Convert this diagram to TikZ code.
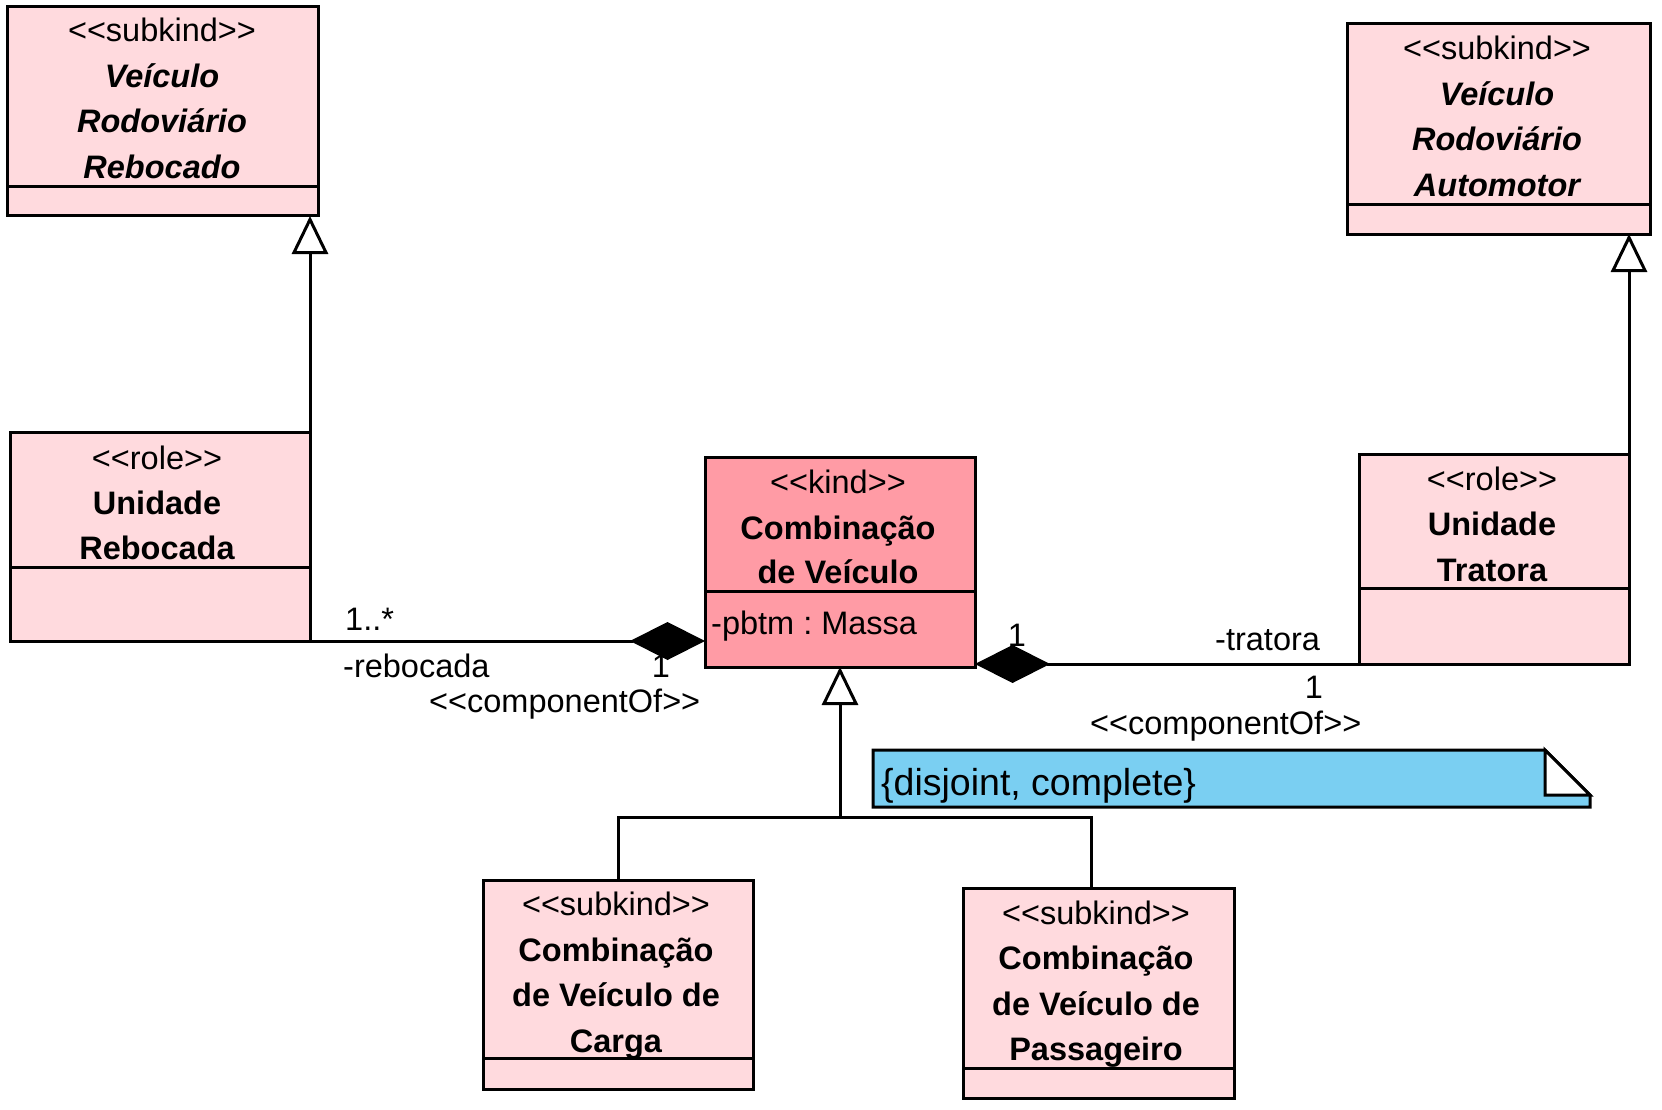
\documentclass[tikz,border=0pt]{standalone}
\usepackage{fontspec}
\setmainfont{Liberation Sans}[Ligatures=TeXOff]
\usetikzlibrary{arrows.meta}
\definecolor{pinkl}{RGB}{255,218,222}
\definecolor{pinkk}{RGB}{255,155,165}
\definecolor{notebl}{RGB}{122,207,242}
\begin{document}
\frenchspacing
\begin{tikzpicture}[x=1pt,y=-1pt,
 ln/.style={line width=3pt},
 cls/.style={draw, line width=3pt, anchor=north west, inner sep=0pt, outer sep=0pt},
 txt/.style={inner sep=0pt, anchor=base, font=\fontsize{32.5}{39}\selectfont},
 lft/.style={inner sep=0pt, anchor=base west, font=\fontsize{32.5}{39}\selectfont},
 nm/.style={txt, font=\fontsize{32.5}{39}\selectfont\bfseries},
 nmi/.style={txt, font=\fontsize{32.5}{39}\selectfont\bfseries\itshape},
 gen/.style={ln, -{Triangle[open, fill=white, length=38pt, width=36pt, line width=3pt]}},
 comp/.style={ln, -{Diamond[length=75pt, width=38pt]}},
]
\path[use as bounding box, fill=white] (0,0) rectangle (1662,1110);

% ---------- class boxes ----------
\node[cls, fill=pinkl, minimum width=311pt, minimum height=209pt] (A) at (7,7) {};
\draw[ln] (7,187) -- (318,187);
\node[txt]  (A1) at (162,42)    {<<subkind>>};
\node[nmi]  (A2) at (162,87.5)  {Veículo};
\node[nmi]  (A3) at (162,133)   {Rodoviário};
\node[nmi]  (A4) at (162,178.5) {Rebocado};

\node[cls, fill=pinkl, minimum width=303pt, minimum height=210pt] (B) at (1347,24) {};
\draw[ln] (1347,205) -- (1650,205);
\node[txt]  (B1) at (1497,60)    {<<subkind>>};
\node[nmi]  (B2) at (1497,105.5) {Veículo};
\node[nmi]  (B3) at (1497,151)   {Rodoviário};
\node[nmi]  (B4) at (1497,196.5) {Automotor};

\node[cls, fill=pinkl, minimum width=300pt, minimum height=209pt] (C) at (10,432) {};
\draw[ln] (10,567) -- (310,567);
\node[txt] (C1) at (157,469)   {<<role>>};
\node[nm]  (C2) at (157,514)   {Unidade};
\node[nm]  (C3) at (157,559.5) {Rebocada};

\node[cls, fill=pinkk, minimum width=270pt, minimum height=210pt] (D) at (705,457) {};
\draw[ln] (705,591) -- (975,591);
\node[txt] (D1) at (838,493) {<<kind>>};
\node[nm]  (D2) at (838,539) {Combinação};
\node[nm]  (D3) at (838,583) {de Veículo};
\node[lft] (D4) at (711,634) {-pbtm : Massa};

\node[cls, fill=pinkl, minimum width=270pt, minimum height=210pt] (E) at (1359,454) {};
\draw[ln] (1359,588) -- (1629,588);
\node[txt] (E1) at (1492,490)   {<<role>>};
\node[nm]  (E2) at (1492,535.5) {Unidade};
\node[nm]  (E3) at (1492,581)   {Tratora};

\node[cls, fill=pinkl, minimum width=270pt, minimum height=209pt] (F) at (483,880) {};
\draw[ln] (483,1058) -- (753,1058);
\node[txt] (F1) at (616,915)    {<<subkind>>};
\node[nm]  (F2) at (616,961)    {Combinação};
\node[nm]  (F3) at (616,1006.5) {de Veículo de};
\node[nm]  (F4) at (616,1052)   {Carga};

\node[cls, fill=pinkl, minimum width=271pt, minimum height=210pt] (G) at (963,888) {};
\draw[ln] (963,1068) -- (1234,1068);
\node[txt] (G1) at (1096,924)  {<<subkind>>};
\node[nm]  (G2) at (1096,969)  {Combinação};
\node[nm]  (G3) at (1096,1015) {de Veículo de};
\node[nm]  (G4) at (1096,1060) {Passageiro};

% ---------- note ----------
\draw[ln, fill=notebl] (873,750) -- (1545,750) -- (1590,795) -- (1590,807) -- (873,807) -- cycle;
\draw[ln, fill=white] (1545,750) -- (1545,795) -- (1590,795) -- cycle;
\node[lft, font=\fontsize{37.5}{42}\selectfont] (N) at (881,795) {\{disjoint, complete\}};

% ---------- association labels ----------
\node[lft] (L1) at (345,630) {1..*};
\node[lft] (L2) at (343,677) {-rebocada};
\node[txt] (L3) at (661,677) {1};
\node[lft] (L4) at (429,712) {<<componentOf>>};
\node[txt] (R1) at (1017,646) {1};
\node[lft] (R2) at (1215,650) {-tratora};
\node[txt] (R3) at (1314,698) {1};
\node[lft] (R4) at (1090,734) {<<componentOf>>};

% ---------- connectors ----------
\draw[gen] (C.north east) -- (C.north east |- A.south);
\draw[gen] (E.north east) -- (E.north east |- B.south);
\draw[comp] (C.south east) -- (C.south east -| D.west);
\draw[comp] (E.south west) -- (E.south west -| D.east);
\coordinate (J) at (840,817);
\coordinate (JR) at (1091,817);
\draw[gen] (J) -- (J |- D.south);
\draw[ln] (F.north) |- (JR) -- (JR |- G.north);
\end{tikzpicture}
\end{document}
